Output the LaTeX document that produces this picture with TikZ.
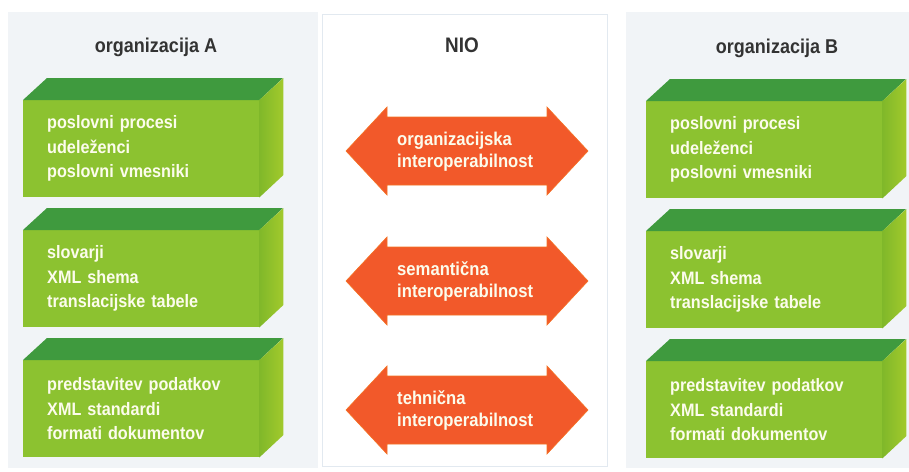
\documentclass[tikz,border=0pt]{standalone}
\usepackage{fontspec}
\setmainfont{Liberation Sans}
\newfontfamily\condfont[FakeStretch=0.9]{Liberation Sans}
\definecolor{frontgreen}{HTML}{8CC230}
\definecolor{topgreen}{HTML}{3F9A3E}
\definecolor{sideA}{HTML}{80B82A}
\definecolor{sideB}{HTML}{A2CA2C}
\definecolor{boxtext}{HTML}{FCFCEC}
\definecolor{titlegray}{HTML}{333333}
\definecolor{arroworange}{HTML}{F2592A}
\definecolor{panelbg}{HTML}{F1F4F7}
\definecolor{panelline}{HTML}{E2E9F0}
\tikzset{
  front/.style={fill=frontgreen, draw=none, minimum width=236pt, minimum height=97pt,
    text width=188pt, inner xsep=24pt, inner ysep=0pt, align=left, anchor=north west,
    text=boxtext, font=\condfont\bfseries\fontsize{18}{24.5}\selectfont},
  titletext/.style={anchor=base, text=titlegray, inner sep=0pt, font=\condfont\bfseries\fontsize{20}{20}\selectfont},
  arrowtext/.style={anchor=west, align=left, inner sep=0pt, text=boxtext,
    font=\condfont\bfseries\fontsize{18.5}{22}\selectfont},
  arrowfill/.style={fill=arroworange, draw=arroworange!85!yellow, line width=0.6pt, line join=miter}
}
\newcommand{\gbox}[4]{%
  \node[front] (#1) at (#2,#3) {#4};
  \fill[topgreen] (#1.north west) -- ++(24,-22) -- ++(236,0) -- (#1.north east) -- cycle;
  \shade[left color=sideA, right color=sideB] (#1.north east) -- ++(24,-22) -- ++(0,97) -- (#1.south east) -- cycle;
}
\newcommand{\dblarrow}[3]{%
  \begin{scope}[shift={(0,#2)}]
    \draw[arrowfill] (346,0) -- (387,-44) -- (387,-34) -- (547,-34) -- (547,-44) -- (588,0)
      -- (547,44) -- (547,34) -- (387,34) -- (387,44) -- cycle;
    \node[arrowtext] (#1) at (397,1) {#3};
  \end{scope}
}
\begin{document}
\begin{tikzpicture}[x=1pt,y=-1pt]
\useasboundingbox (0,0) rectangle (909,471);
\fill[white] (0,0) rectangle (909,471);
% panels
\fill[panelbg] (8,12) rectangle (318,468);
\fill[panelbg] (626,12) rectangle (909,468);
\draw[panelline, fill=white, line width=1pt] (322,14) rectangle (607,466);
% titles
\node[titletext] (tA) at (156,52) {organizacija A};
\node[titletext, font=\condfont\bfseries\fontsize{21}{21}\selectfont] (tN) at (462,52) {NIO};
\node[titletext] (tB) at (777,53) {organizacija B};
% left column
\gbox{a1}{23}{100}{poslovni procesi\\udeleženci\\poslovni vmesniki}
\gbox{a2}{23}{230}{slovarji\\XML shema\\translacijske tabele}
\gbox{a3}{23}{360}{predstavitev podatkov\\XML standardi\\formati dokumentov}
% right column
\gbox{b1}{646}{101}{poslovni procesi\\udeleženci\\poslovni vmesniki}
\gbox{b2}{646}{231}{slovarji\\XML shema\\translacijske tabele}
\gbox{b3}{646}{361}{predstavitev podatkov\\XML standardi\\formati dokumentov}
% arrows
\dblarrow{n1}{151}{organizacijska\\interoperabilnost}
\dblarrow{n2}{281}{semantična\\interoperabilnost}
\dblarrow{n3}{410}{tehnična\\interoperabilnost}
\end{tikzpicture}
\end{document}
